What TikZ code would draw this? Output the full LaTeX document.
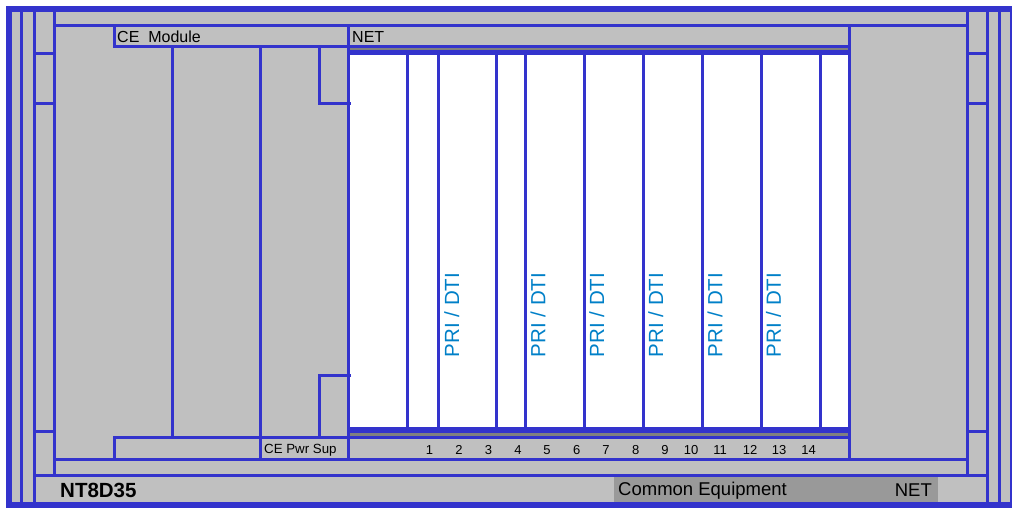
\documentclass[tikz,border=0pt]{standalone}
\usepackage{fontspec}
\setmainfont{Liberation Sans}
\definecolor{bg}{RGB}{192,192,192}
\definecolor{ln}{RGB}{51,51,204}
\definecolor{dg}{RGB}{128,128,128}
\definecolor{mg}{RGB}{153,153,153}
\definecolor{lbl}{RGB}{0,128,200}
\begin{document}
\begin{tikzpicture}[x=1pt,y=-1pt,
  bl/.style={draw=ln,line width=3pt},
  thick border/.style={draw=ln,line width=6pt},
  slotlbl/.style={text=lbl,font=\fontsize{20.5}{20.5}\selectfont,rotate=90,inner sep=0pt},
  num/.style={font=\fontsize{13}{13}\selectfont,inner sep=0pt},
  hdr/.style={font=\fontsize{16}{16}\selectfont,inner sep=0pt,anchor=west},
  foot/.style={font=\fontsize{18.5}{18.5}\selectfont,inner sep=0pt}]
\useasboundingbox (0,0) rectangle (1012,508);
\fill[white] (0,0) rectangle (1012,508);
\fill[bg] (9,9) rectangle (1013,505);
\fill[mg] (614,476.5) rectangle (938,503);
\fill[white] (349,55) rectangle (849,427);
\fill[dg] (349,47.5) rectangle (849,50);
\fill[ln] (349,50) rectangle (849,55);
\fill[ln] (349,427) rectangle (849,433);
\fill[dg] (349,433) rectangle (849,436);
% left columns
\draw[bl] (21.5,9) -- (21.5,505);
\draw[bl] (34.2,9) -- (34.2,505);
\draw[bl] (54.2,9) -- (54.2,475);
\draw[bl] (34.2,53.5) -- (54.2,53.5) (34.2,103.5) -- (54.2,103.5) (34.2,431) -- (54.2,431);
% right columns
\draw[bl] (999.5,9) -- (999.5,505);
\draw[bl] (987.5,9) -- (987.5,505);
\draw[bl] (967.5,9) -- (967.5,475);
\draw[bl] (967.5,53.5) -- (987.5,53.5) (967.5,103.5) -- (987.5,103.5) (967.5,431) -- (987.5,431);
% horizontals
\draw[bl] (54.2,25.5) -- (967.5,25.5);
\draw[bl] (54.2,459) -- (967.5,459);
\draw[bl] (34.2,475) -- (987.5,475);
% CE module box
\draw[bl] (114,25.5) -- (114,46.5) -- (849,46.5);
\draw[bl] (348.5,25.5) -- (348.5,459);
\draw[bl] (849,25.5) -- (849,459);
\draw[bl] (172.7,46.5) -- (172.7,437.3);
\draw[bl] (260.3,46.5) -- (260.3,459);
\draw[bl] (319.7,46.5) -- (319.7,103.5) -- (351,103.5);
\draw[bl] (351,375.3) -- (319.7,375.3) -- (319.7,437.3);
% CE pwr sup box
\draw[bl] (114,459) -- (114,437.3) -- (849,437.3);
% slot dividers
\foreach \x in {407,438,496.7,525.5,584.5,643.5,702.5,761.5,820.5}
  \draw[bl] (\x,55) -- (\x,427);
% outer border
\draw[thick border] (9,9) rectangle (1013,505);
% texts
\node[hdr] (cem) at (117,36.5) {CE\ \ Module};
\node[hdr] (net) at (352,36.5) {NET};
\node[anchor=west,inner sep=0pt,font=\fontsize{13.3}{13.3}\selectfont] (pwr) at (264,450) {CE Pwr Sup};
\foreach \n/\x in {1/429.5,2/459,3/488.5,4/518,5/547,6/576.7,7/606,8/635.7,9/665,10/691,11/720,12/750,13/779,14/808.5}
  \node[num] (n\n) at (\x,450) {\n};
\foreach \i/\x in {a/451.7,b/538,c/596.7,d/655.7,e/715,f/773.5}
  \node[slotlbl] (s\i) at (\x,315) {PRI / DTI};
\node[anchor=west,inner sep=0pt,font=\bfseries\fontsize{20.5}{20.5}\selectfont] (model) at (60,490) {NT8D35};
\node[foot,anchor=west] (ce) at (618,490.3) {Common Equipment};
\node[foot,anchor=east] (net2) at (932,490.3) {NET};
\end{tikzpicture}
\end{document}
